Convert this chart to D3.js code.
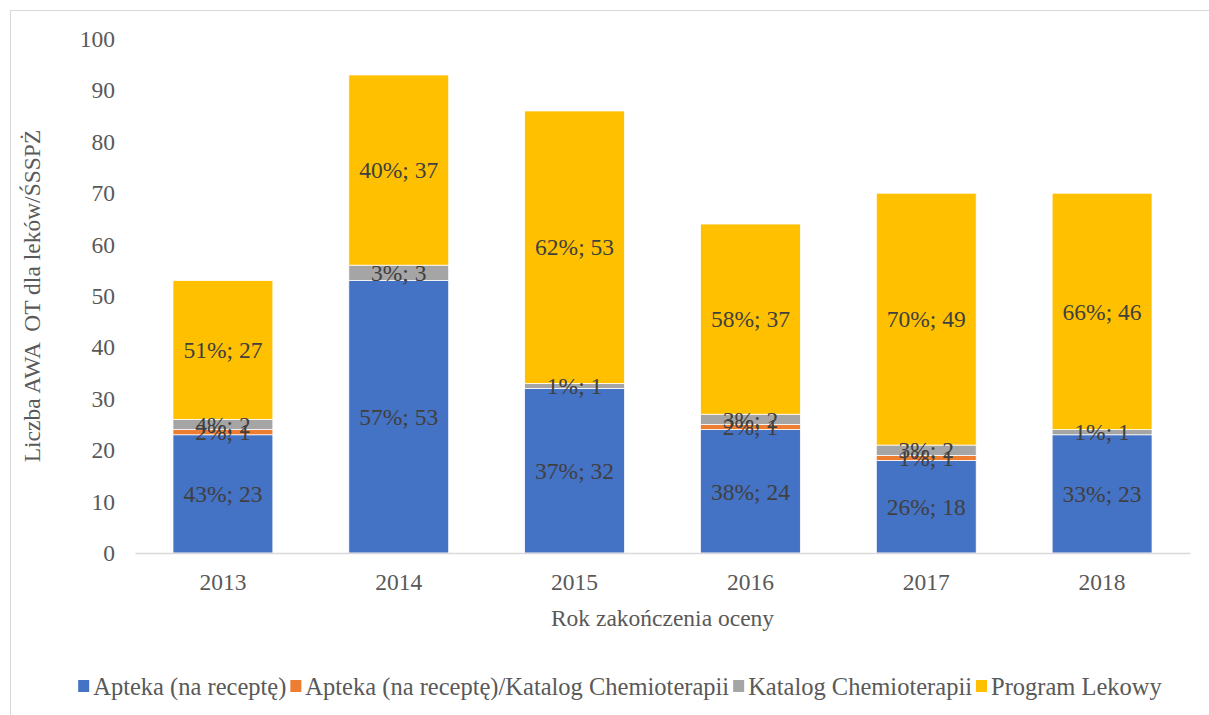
<!DOCTYPE html>
<html>
<head>
<meta charset="utf-8">
<script src="https://cdn.jsdelivr.net/npm/d3@7"></script>
<style>
  body { margin: 0; background: #fff; }
  svg text { font-family: "Liberation Serif", "Times New Roman", serif !important; }
</style>
</head>
<body>
<div class="canvas"></div>
<script>
// data
const years = ['2013', '2014', '2015', '2016', '2017', '2018'];
const seriesNames = ['Apteka (na receptę)', 'Apteka (na receptę)/Katalog Chemioterapii', 'Katalog Chemioterapii', 'Program Lekowy'];
const apteka = [23, 53, 32, 24, 18, 23];
const aptekaKatalog = [1, 0, 0, 1, 1, 0];
const katalog = [2, 3, 1, 2, 2, 1];
const program = [27, 37, 53, 37, 49, 46];
const yTicks = [0, 10, 20, 30, 40, 50, 60, 70, 80, 90, 100];

const colors = ['#4472C4', '#ED7D31', '#A5A5A5', '#FFC000'];
const fontSize = '23.5px';

const dims = { width: 1209, height: 715 };
const plot = { left: 135, right: 1190, top: 39, bottom: 553 };

const svg = d3.select('.canvas').append('svg')
    .attr('width', dims.width)
    .attr('height', dims.height);

// chart border
svg.append('rect')
    .attr('x', 10.5).attr('y', 10.5)
    .attr('width', 1220).attr('height', 720)
    .attr('fill', 'none')
    .attr('stroke', '#d9d9d9');

const keys = seriesNames.map((d, i) => 'k' + i);
const rows = years.map((y, i) => ({
    year: y, k0: apteka[i], k1: aptekaKatalog[i], k2: katalog[i], k3: program[i]
}));

const x = d3.scaleBand()
    .domain(years)
    .range([plot.left, plot.right])
    .paddingInner(0.432)
    .paddingOuter(0.216);

const y = d3.scaleLinear()
    .domain([0, 100])
    .range([plot.bottom, plot.top]);

const stacked = d3.stack().keys(keys)(rows);

// y axis labels
const yAxis = svg.append('g')
    .attr('transform', `translate(${plot.left - 20},0)`)
    .call(d3.axisLeft(y).tickValues(yTicks).tickSize(0).tickPadding(0));
yAxis.select('.domain').remove();
yAxis.selectAll('text')
    .attr('fill', '#595959')
    .style('font-size', fontSize);

// bars
const layers = svg.append('g').selectAll('g')
    .data(stacked)
    .join('g')
    .attr('fill', (d, i) => colors[i]);

layers.selectAll('rect')
    .data(d => d)
    .join('rect')
    .attr('x', d => x(d.data.year))
    .attr('y', d => y(d[1]))
    .attr('width', x.bandwidth())
    .attr('height', d => y(d[0]) - y(d[1]))
    .attr('stroke', '#fff')
    .attr('stroke-width', 0.75);

// x axis
const xAxis = svg.append('g')
    .attr('transform', `translate(0,${plot.bottom})`)
    .call(d3.axisBottom(x).tickSize(0).tickPadding(20));
xAxis.select('.domain').attr('stroke', '#d9d9d9').attr('stroke-width', 1.5);
xAxis.selectAll('text')
    .attr('fill', '#595959')
    .style('font-size', fontSize);

// data labels
const totals = rows.map(r => keys.reduce((s, k) => s + r[k], 0));
stacked.forEach((layer, li) => {
    svg.append('g').selectAll('text')
        .data(layer.filter(d => d[1] - d[0] > 0))
        .join('text')
        .attr('x', d => x(d.data.year) + x.bandwidth() / 2)
        .attr('y', d => (y(d[0]) + y(d[1])) / 2)
        .attr('dy', '0.35em')
        .attr('text-anchor', 'middle')
        .attr('fill', '#404040')
        .style('font-size', fontSize)
        .text(d => {
            const v = d[1] - d[0];
            const t = totals[years.indexOf(d.data.year)];
            return Math.round(v / t * 100) + '%; ' + v;
        });
});

// axis titles
svg.append('text')
    .attr('transform', `translate(40,${(plot.top + plot.bottom) / 2}) rotate(-90)`)
    .attr('text-anchor', 'middle')
    .attr('fill', '#595959')
    .style('font-size', fontSize)
    .style('white-space', 'pre')
    .text('Liczba AWA  OT dla leków/ŚSSPŻ');

svg.append('text')
    .attr('x', (plot.left + plot.right) / 2)
    .attr('y', 626)
    .attr('text-anchor', 'middle')
    .attr('fill', '#595959')
    .style('font-size', fontSize)
    .text('Rok zakończenia oceny');

// legend
const legend = svg.append('g');
let lx = 0;
seriesNames.forEach((name, i) => {
    const item = legend.append('g').attr('transform', `translate(${lx},0)`);
    item.append('rect')
        .attr('x', 0).attr('y', -6)
        .attr('width', 11).attr('height', 12)
        .attr('fill', colors[i]);
    const t = item.append('text')
        .attr('x', 15).attr('y', 0)
        .attr('dy', '0.35em')
        .attr('fill', '#595959')
        .style('font-size', '24.5px')
        .text(name);
    lx += 15 + t.node().getComputedTextLength() + 4;
});
const lw = lx - 4;
legend.attr('transform', `translate(${(80 + 1160) / 2 - lw / 2},686)`);
</script>
</body>
</html>
